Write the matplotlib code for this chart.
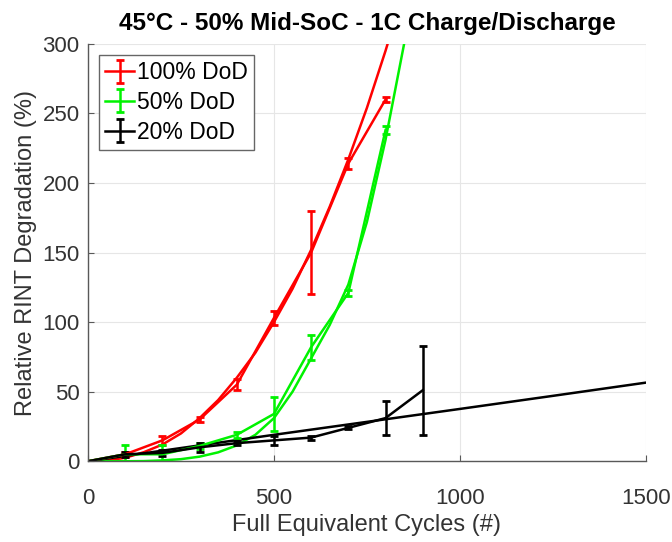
import numpy as np
import matplotlib
matplotlib.use("Agg")
import matplotlib.pyplot as plt

plt.rcParams['font.family'] = ['Liberation Sans', 'DejaVu Sans']

# measured points (cycles, % RINT increase, error)
cycles = [0, 100, 200, 300, 400, 500, 600, 700, 800]
red_mean = [0, 5, 15, 30, 55, 103, 150, 214, 260]
red_err = [0, 2, 3, 2, 4, 5, 30, 4, 2]
green_mean = [0, 5, 5, 11, 19, 34, 82, 121, 238]
green_err = [0, 7, 7, 2, 2, 12, 9, 2, 3]
cycles_black = [0, 100, 200, 300, 400, 500, 600, 700, 800, 900]
black_mean = [0, 5, 6, 10, 13, 15, 17, 24, 31, 51]
black_err = [0, 2, 2, 3, 1.5, 3, 1.5, 1, 12, 32]

# fitted curves
fit_x = [0, 50, 100, 150, 200, 250, 300, 350, 400, 450, 500, 550, 600,
         650, 700, 750, 800, 850, 900]
red_fit = [0, 0.5, 2.5, 6.5, 12, 20, 31, 44, 60, 78, 100, 124, 152,
           183, 217, 254, 295, 339, 386]
green_fit = [0, 0, 0, 0.1, 0.6, 1.5, 3.3, 6.4, 11.4, 19, 31, 50, 74,
             98, 127, 172, 231, 300, 384]
black_fit_x = [0, 250, 500, 750, 1000, 1250, 1500]
black_fit = [0, 9.5, 19, 28.3, 37.6, 47, 56.5]

fig = plt.figure(figsize=(6.72, 5.42), dpi=100)
ax = fig.add_axes([0.131, 0.149, 0.830, 0.770])

lw = 1.8
green = (0, 0.95, 0)
ax.plot(fit_x, red_fit, color='red', lw=lw)
ax.plot(fit_x, green_fit, color=green, lw=lw)
ax.plot(black_fit_x, black_fit, color='black', lw=lw)

ax.errorbar(cycles, red_mean, yerr=red_err, color='red', lw=lw,
            capsize=3, capthick=2, label='100% DoD')
ax.errorbar(cycles, green_mean, yerr=green_err, color=green, lw=lw,
            capsize=3, capthick=2, label='50% DoD')
ax.errorbar(cycles_black, black_mean, yerr=black_err, color='black', lw=lw,
            capsize=3, capthick=2, label='20% DoD')

ax.set_xlim(0, 1500)
ax.set_ylim(0, 300)
ax.set_xticks([0, 500, 1000, 1500])
ax.set_yticks([0, 50, 100, 150, 200, 250, 300])
ax.grid(True, color='0.9', lw=0.8)
ax.set_axisbelow(True)
for s in ['top', 'right']:
    ax.spines[s].set_visible(False)
for s in ['left', 'bottom']:
    ax.spines[s].set_color('0.35')
    ax.spines[s].set_linewidth(1.0)
ax.tick_params(direction='in', length=4, colors='0.35', labelcolor='0.2',
               labelsize=16)
ax.tick_params(axis='x', pad=19)
ax.tick_params(axis='y', pad=6)

ax.set_xlabel('Full Equivalent Cycles (#)', fontsize=17, color='0.2', labelpad=4)
ax.set_ylabel('Relative RINT Degradation (%)', fontsize=17, color='0.2', labelpad=4)
ax.set_title('45°C - 50% Mid-SoC - 1C Charge/Discharge', fontsize=17.5,
             fontweight='bold', pad=10)

leg = ax.legend(loc='upper left', fontsize=16.5, fancybox=False, framealpha=1,
                edgecolor='0.4', borderaxespad=0.5, handlelength=1.25,
                handletextpad=0.15, labelspacing=0.3, borderpad=0.25)
leg.get_frame().set_linewidth(1.0)

fig.savefig('out.png', dpi=100)
